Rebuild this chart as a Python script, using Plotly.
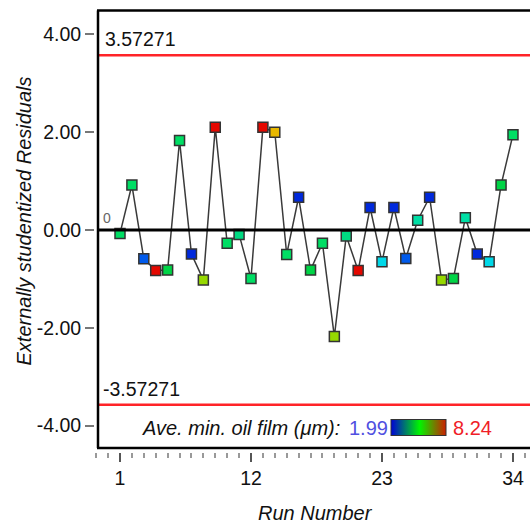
import plotly.graph_objects as go

# ---- data ----
runs = list(range(1, 35))
residuals = [-0.07, 0.92, -0.59, -0.83, -0.82, 1.83, -0.49, -1.02, 2.10, -0.27,
             -0.09, -0.99, 2.10, 2.00, -0.50, 0.67, -0.82, -0.27, -2.18, -0.12,
             -0.83, 0.46, -0.65, 0.46, -0.58, 0.20, 0.67, -1.02, -0.99, 0.25,
             -0.49, -0.65, 0.92, 1.95]
# Ave. min. oil film (um)
oil_film = [5.0, 5.0, 2.6, 8.2, 5.3, 5.0, 2.0, 6.3, 8.2, 5.0,
            4.5, 5.0, 8.2, 7.3, 5.0, 2.0, 5.3, 5.0, 6.3, 4.5,
            8.2, 2.0, 3.4, 2.0, 2.6, 4.2, 2.0, 6.3, 5.3, 4.2,
            2.0, 3.4, 5.3, 5.0]
oil_min, oil_max = 1.99, 8.24
limit = 3.57271
y_tickvals = [-4, -2, 0, 2, 4]
y_ticktext = ["-4.00", "-2.00", "0.00", "2.00", "4.00"]
x_tickvals = [1, 12, 23, 34]

FONT = "Liberation Sans, Arial, sans-serif"

marker_scale = [
    [0.0, "rgb(0,40,220)"],
    [0.098, "rgb(0,90,235)"],
    [0.226, "rgb(0,216,232)"],
    [0.354, "rgb(0,222,165)"],
    [0.402, "rgb(0,218,130)"],
    [0.482, "rgb(0,222,100)"],
    [0.530, "rgb(0,212,70)"],
    [0.69, "rgb(150,216,0)"],
    [0.85, "rgb(232,184,0)"],
    [1.0, "rgb(228,0,0)"],
]
legend_scale = [[0.0, "rgb(0,0,215)"], [0.52, "rgb(0,245,0)"], [1.0, "rgb(205,30,0)"]]

fig = go.Figure()

fig.add_trace(go.Scatter(
    x=runs, y=residuals, mode="lines+markers",
    line=dict(color="#3a3a3a", width=1.5),
    marker=dict(symbol="square", size=10, color=oil_film, colorscale=marker_scale,
                cmin=oil_min, cmax=oil_max, line=dict(color="#333333", width=1.5),
                showscale=False),
    showlegend=False, hoverinfo="x+y",
))

# dummy trace carrying the legend colour bar
fig.add_trace(go.Scatter(
    x=[None, None], y=[None, None], mode="markers",
    marker=dict(color=[oil_min, oil_max], colorscale=legend_scale, cmin=oil_min, cmax=oil_max,
                showscale=True,
                colorbar=dict(orientation="h", lenmode="pixels", len=55, thickness=16,
                              thicknessmode="pixels",
                              x=0.7437, y=0.0543, xanchor="center", yanchor="middle",
                              xpad=0, ypad=0, outlinewidth=1, outlinecolor="#333333",
                              ticks="", showticklabels=False)),
    showlegend=False, hoverinfo="skip",
))

L, T, B = 95, 10, 75
W, H = 530, 527
pw, ph = W - L, H - T - B

def px_x(p):
    return (p - L) / pw

def px_y(p):
    return (H - B - p) / ph

shapes = [
    # zero line
    dict(type="line", xref="paper", yref="y", x0=px_x(98), x1=1.05, y0=0, y1=0,
         line=dict(color="black", width=3)),
    # limit lines
    dict(type="line", xref="paper", yref="y", x0=px_x(98), x1=1.05, y0=limit, y1=limit,
         line=dict(color="rgb(255,35,40)", width=2.5)),
    dict(type="line", xref="paper", yref="y", x0=px_x(98), x1=1.05, y0=-limit, y1=-limit,
         line=dict(color="rgb(255,35,40)", width=2.5)),
    # frame
    dict(type="line", xref="paper", yref="paper", x0=px_x(98), x1=px_x(98),
         y0=px_y(448), y1=px_y(10.5), line=dict(color="black", width=2.5)),
    dict(type="line", xref="paper", yref="paper", x0=px_x(97), x1=1.05,
         y0=px_y(10.5), y1=px_y(10.5), line=dict(color="black", width=2.5)),
    dict(type="line", xref="paper", yref="paper", x0=px_x(97), x1=1.05,
         y0=px_y(448), y1=px_y(448), line=dict(color="black", width=2.5)),
]

annotations = [
    dict(text=f"{limit:.5f}", xref="paper", yref="y", x=px_x(103), y=limit,
         xanchor="left", yanchor="bottom", yshift=3, showarrow=False,
         font=dict(family=FONT, size=19.5, color="#111111")),
    dict(text=f"{-limit:.5f}", xref="paper", yref="y", x=px_x(101), y=-limit,
         xanchor="left", yanchor="bottom", yshift=3, showarrow=False,
         font=dict(family=FONT, size=19.5, color="#111111")),
    dict(text="0", xref="paper", yref="y", x=px_x(101), y=0,
         xanchor="left", yanchor="bottom", yshift=2, showarrow=False,
         font=dict(family=FONT, size=14, color="#666666")),
    dict(text="<i>Ave. min. oil film (μm):</i>", xref="paper", yref="paper",
         x=px_x(342), y=px_y(428), xanchor="right", yanchor="middle", showarrow=False,
         font=dict(family=FONT, size=20, color="#111111")),
    dict(text=f"{oil_min:.2f}", xref="paper", yref="paper",
         x=px_x(347), y=px_y(428), xanchor="left", yanchor="middle", showarrow=False,
         font=dict(family=FONT, size=20, color="rgb(80,80,225)")),
    dict(text=f"{oil_max:.2f}", xref="paper", yref="paper",
         x=px_x(451), y=px_y(428), xanchor="left", yanchor="middle", showarrow=False,
         font=dict(family=FONT, size=20, color="rgb(240,30,40)")),
    dict(text="<i>Run Number</i>", xref="paper", yref="paper",
         x=px_x(315), y=px_y(513), xanchor="center", yanchor="middle", showarrow=False,
         font=dict(family=FONT, size=20, color="#111111")),
    dict(text="<i>Externally studentized Residuals</i>", xref="paper", yref="paper",
         x=px_x(24), y=px_y(221.5), xanchor="center", yanchor="middle", showarrow=False,
         textangle=-90, font=dict(family=FONT, size=20, color="#111111")),
]

fig.update_layout(
    width=W, height=H,
    margin=dict(l=L, r=0, t=T, b=B, pad=0),
    paper_bgcolor="white", plot_bgcolor="white",
    shapes=shapes, annotations=annotations,
    font=dict(family=FONT, size=19.5, color="#111111"),
    xaxis=dict(range=[-1.099, 35.43], tickmode="array", tickvals=x_tickvals,
               ticks="outside", ticklen=9, tickwidth=2, tickcolor="#555555",
               showline=False, showgrid=False, zeroline=False,
               tickfont=dict(family=FONT, size=19.5, color="#111111"),
               minor=dict(tickmode="linear", tick0=1, dtick=1, ticks="outside",
                          ticklen=5, tickwidth=1.5, tickcolor="#999999", showgrid=False)),
    yaxis=dict(range=[-4.54, 4.50], tickmode="array", tickvals=y_tickvals, ticktext=y_ticktext,
               ticks="outside", ticklen=9, tickwidth=2, tickcolor="#777777",
               showline=False, showgrid=False, zeroline=False,
               tickfont=dict(family=FONT, size=19.5, color="#111111")),
)

fig.write_html("out.html", config={"displayModeBar": False},
               post_script="document.body.style.margin='0';document.body.style.overflow='hidden';")
